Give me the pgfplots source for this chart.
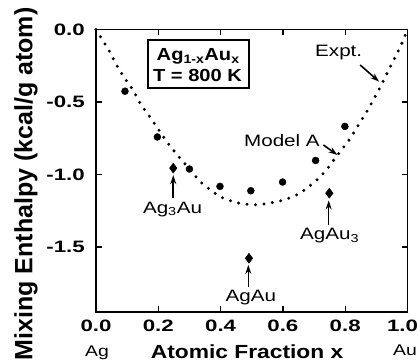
\documentclass[border=0pt]{standalone}
\usepackage{pgfplots}
\pgfplotsset{compat=1.18}
\usetikzlibrary{arrows.meta}
\usepackage{fontspec}
\setmainfont{Liberation Sans}
% wide faces for the tick numbers, notes and the inset box
\newfontfamily\tickfont[FakeStretch=1.35]{Liberation Sans}
\newfontfamily\notefont[FakeStretch=1.25]{Liberation Sans}
\newfontfamily\boxfont[FakeStretch=1.15]{Liberation Sans}
\newfontfamily\xlabfont[FakeStretch=1.2]{Liberation Sans}

\tikzset{note arrow/.style={line width=1.6bp, -{Stealth[length=9bp,width=6bp]}}}

\begin{document}
\begin{tikzpicture}
\begin{axis}[
  scale only axis,
  width=311.5bp, height=282.5bp,
  xmin=0, xmax=1, ymin=-1.95, ymax=0,
  xtick={0,0.2,0.4,0.6,0.8,1},
  xticklabels={0.0,0.2,0.4,0.6,0.8,\kern-5bp 1.0\kern5bp},
  ytick={-1.5,-1,-0.5,0},
  yticklabels={-1.5,-1.0,-0.5,0.0},
  tick align=inside,
  major tick length=6bp,
  tick style={line width=1.4bp, black},
  axis line style={line width=1.8bp},
  ticklabel style={font=\tickfont\bfseries\fontsize{16.5bp}{18bp}\selectfont, inner sep=0pt},
  xticklabel style={anchor=north, yshift=-8bp},
  yticklabel style={anchor=east, xshift=-11bp},
  clip=false,
]
% Model A (dotted curve)
\addplot[black, line width=3.3bp, line cap=round, dash pattern=on 0bp off 8.5bp, smooth, tension=0.5]
  coordinates {
  (0,0) (0.018,-0.062) (0.043,-0.150) (0.064,-0.237) (0.088,-0.323)
  (0.118,-0.415) (0.141,-0.507) (0.168,-0.588) (0.206,-0.707) (0.232,-0.788)
  (0.265,-0.876) (0.302,-0.968) (0.334,-1.049) (0.367,-1.107) (0.404,-1.160)
  (0.458,-1.198) (0.511,-1.210) (0.538,-1.205) (0.597,-1.180) (0.645,-1.141)
  (0.677,-1.095) (0.710,-1.037) (0.742,-0.963) (0.768,-0.887) (0.793,-0.818)
  (0.817,-0.749) (0.843,-0.657) (0.868,-0.572) (0.892,-0.479) (0.913,-0.395)
  (0.935,-0.300) (0.956,-0.210) (0.975,-0.127) (0.988,-0.065) (1,0)
  };
% computed points
\addplot[only marks, mark=*, mark size=3.5bp, black] coordinates {
  (0.093,-0.426) (0.197,-0.742) (0.300,-0.963) (0.398,-1.083)
  (0.497,-1.113) (0.599,-1.053) (0.705,-0.904) (0.799,-0.669)
};
% ordered compounds
\addplot[only marks, mark=diamond*, mark size=5bp, black] coordinates {
  (0.248,-0.957) (0.491,-1.579) (0.749,-1.130)
};

% inset box
\draw[line width=1.8bp] (axis cs:0.168,-0.0725) rectangle (axis cs:0.491,-0.406);
\node[anchor=base, inner sep=0pt, font=\boxfont\bfseries\fontsize{17.5bp}{19bp}\selectfont]
  at (axis cs:0.328,-0.217) {Ag\textsubscript{1-x}Au\textsubscript{x}};
\node[anchor=base, inner sep=0pt, font=\boxfont\bfseries\fontsize{17.5bp}{19bp}\selectfont]
  at (axis cs:0.326,-0.360) {T = 800 K};

% compound labels
\node[anchor=base, inner sep=0pt, font=\notefont\fontsize{16.5bp}{18bp}\selectfont]
  at (axis cs:0.2456,-1.268) {Ag\textsubscript{3}Au};
\draw[note arrow] (axis cs:0.248,-1.163) -- (axis cs:0.248,-1.005);
\node[anchor=base, inner sep=0pt, font=\notefont\fontsize{16.5bp}{18bp}\selectfont]
  at (axis cs:0.497,-1.879) {AgAu};
\draw[note arrow] (axis cs:0.489,-1.775) -- (axis cs:0.489,-1.625);
\node[anchor=base, inner sep=0pt, font=\notefont\fontsize{16.5bp}{18bp}\selectfont]
  at (axis cs:0.750,-1.453) {AgAu\textsubscript{3}};
\draw[note arrow] (axis cs:0.747,-1.349) -- (axis cs:0.747,-1.180);

% curve labels
\node[anchor=base east, inner sep=0pt, font=\notefont\fontsize{16.5bp}{18bp}\selectfont]
  at (axis cs:0.719,-0.811) {Model A};
\draw[note arrow] (axis cs:0.730,-0.797) -- (axis cs:0.775,-0.866);
\node[anchor=base west, inner sep=0pt, font=\notefont\fontsize{16.5bp}{18bp}\selectfont]
  at (axis cs:0.703,-0.188) {Expt.};
\draw[note arrow] (axis cs:0.848,-0.245) -- (axis cs:0.909,-0.360);

% axis titles and end members
\node[anchor=base, inner sep=0pt, font=\xlabfont\bfseries\fontsize{19bp}{21bp}\selectfont]
  at (axis cs:0.485,-2.270) {Atomic Fraction x};
\node[anchor=base, inner sep=0pt, font=\notefont\fontsize{15.5bp}{17bp}\selectfont]
  at (axis cs:0.003,-2.258) {Ag};
\node[anchor=base, inner sep=0pt, font=\notefont\fontsize{15.5bp}{17bp}\selectfont]
  at (axis cs:0.992,-2.251) {Au};
\node[anchor=base, rotate=90, inner sep=0pt, font=\bfseries\fontsize{25bp}{27bp}\selectfont]
  at (axis cs:-0.204,-1.066) {Mixing Enthalpy (kcal/g atom)};
\end{axis}
\pgfresetboundingbox
\path[use as bounding box] (-96bp,-50bp) rectangle (324bp,312bp);
\end{tikzpicture}
\end{document}
